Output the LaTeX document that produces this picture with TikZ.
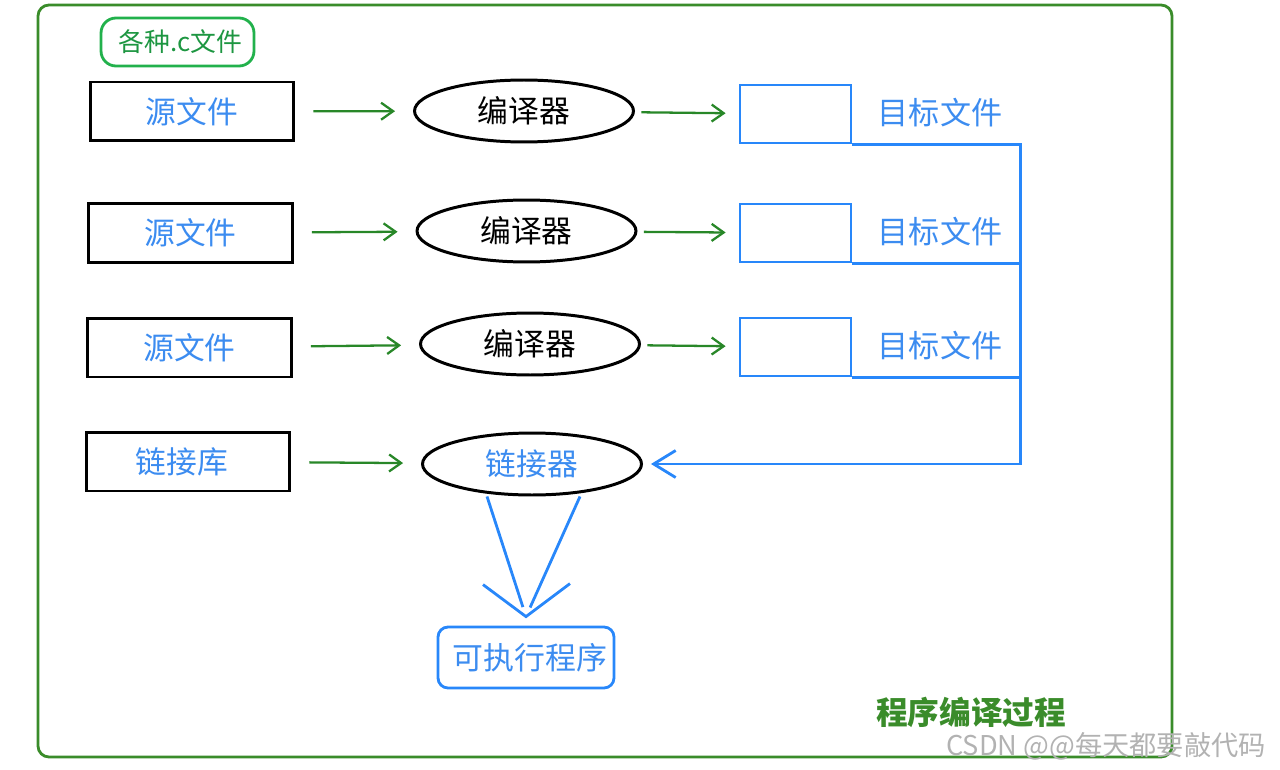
\documentclass[tikz,border=0pt]{standalone}
\usepackage{fontspec}
\setmainfont{Noto Sans CJK SC}
\usetikzlibrary{shapes.geometric, arrows.meta, positioning}
\usepackage{xcolor}
\definecolor{framegreen}{RGB}{58,140,42}
\definecolor{arrowgreen}{RGB}{40,135,40}
\definecolor{paintgreen}{RGB}{34,177,76}
\definecolor{paintblue}{RGB}{40,135,250}
\definecolor{textblue}{RGB}{60,140,240}
\tikzset{
	srcbox/.style={draw=black, line width=1.7pt, minimum width=4.08cm, minimum height=1.18cm, inner sep=0pt, text=textblue, font=\fontsize{17.5}{17.5}\selectfont},
	tool/.style={ellipse, draw=black, line width=1.7pt, minimum width=4.38cm, minimum height=1.24cm, inner sep=0pt, font=\fontsize{17.5}{17.5}\selectfont},
	objbox/.style={draw=paintblue, line width=1.6pt, minimum width=2.22cm, minimum height=1.16cm, inner sep=0pt},
	objtext/.style={text=textblue, font=\fontsize{17.7}{17.7}\selectfont},
	flow/.style={draw=arrowgreen, line width=1.3pt, -{Straight Barb[length=0.24cm, width=0.34cm, line width=1.3pt]}},
	busline/.style={draw=paintblue, line width=1.6pt},
	busarrow/.style={busline, -{Straight Barb[length=0.44cm, width=0.54cm, line width=1.6pt]}}
}

\begin{document}
\begin{tikzpicture}[x=0.02cm, y=-0.02cm]
	\useasboundingbox (0,0) rectangle (1280,770);
	\draw[framegreen, line width=1.6pt, rounded corners=0.22cm] (38,5) rectangle (1172,757);

	\node[draw=paintgreen, line width=1.6pt, rounded corners=0.3cm, minimum width=3.06cm, minimum height=0.96cm, inner sep=0pt, text=paintgreen!85!black, font=\fontsize{14.7}{14.7}\selectfont] (cfiles) at (177.5,42) {\hspace*{0.12cm}各种.c文件};

	% rows
	\node[srcbox] (src1) at (192,111.5) {源文件};
	\node[srcbox] (src2) at (190.5,233) {源文件};
	\node[srcbox] (src3) at (189.5,347.5) {源文件};
	\node[srcbox] (lib) at (188,461.5) {\hspace*{-0.24cm}链接库};

	\node[tool] (cmp1) at (524,111) {编译器};
	\node[tool] (cmp2) at (526.5,231) {编译器};
	\node[tool] (cmp3) at (530,344) {编译器};
	\node[tool, text=textblue] (lnk) at (532,464) {链接器};

	\node[objbox] (obj1) at (795.5,114) {};
	\node[objbox] (obj2) at (795.5,233) {};
	\node[objbox] (obj3) at (795.5,347) {};
	\node[objtext] (lbl1) at (940,113) {目标文件};
	\node[objtext] (lbl2) at (940,232) {目标文件};
	\node[objtext] (lbl3) at (940,346) {目标文件};

	\node[draw=paintblue, line width=1.6pt, rounded corners=0.2cm, minimum width=3.52cm, minimum height=1.22cm, inner sep=0pt, text=textblue, font=\fontsize{17.6}{17.6}\selectfont] (exe) at (526,657.5) {\hspace*{0.16cm}可执行程序};

	\node[text=framegreen, font=\bfseries\fontsize{18}{18}\selectfont] (title) at (971,712) {程序编译过程};
	\node[text=gray!60, font=\fontsize{15.5}{15.5}\selectfont] (mark) at (1106,746) {CSDN @@每天都要敲代码};

	% green arrows
	\draw[flow, shorten <=0.36cm, shorten >=0.36cm]
		(src1) edge (cmp1)
		(src2) edge (cmp2)
		(src3) edge (cmp3)
		(lib) edge (lnk);
	\draw[flow, shorten <=0.13cm, shorten >=0.26cm]
		(cmp1) edge (obj1)
		(cmp2) edge (obj2)
		(cmp3) edge (obj3);

	% blue lines to the linker
	\coordinate (bus) at ([xshift=3.36cm]obj1.south east);
	\draw[busarrow, shorten >=0.16cm] (obj1.south east) -- (bus) |- (lnk.east);
	\draw[busline] (obj2.south east) -- (obj2.south east -| bus);
	\draw[busline] (obj3.south east) -- (obj3.south east -| bus);

	% linker to program
	\coordinate (meet) at ([yshift=0.18cm]exe.north);
	\draw[busline, shorten >=0.2cm] ([xshift=-0.9cm]lnk.south) -- (meet);
	\draw[busline, shorten >=0.2cm] ([xshift=0.96cm]lnk.south) -- (meet);
	\draw[busline] (meet) ++(-43,-32) -- (meet) -- ++(44,-33);
\end{tikzpicture}
\end{document}
